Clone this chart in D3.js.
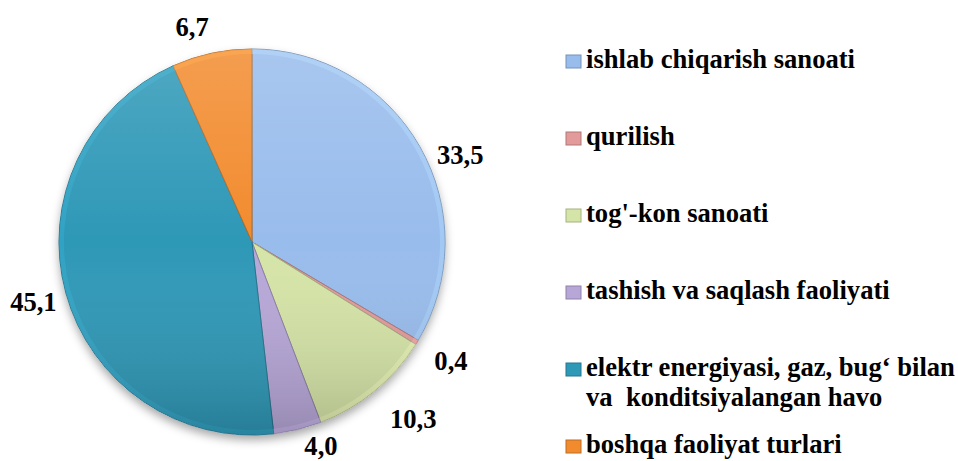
<!DOCTYPE html>
<html>
<head>
<meta charset="utf-8">
<script src="https://cdn.jsdelivr.net/npm/d3@7"></script>
<style>
  body { margin: 0; background: #fff; }
</style>
</head>
<body>
<svg id="chart" width="958" height="461"></svg>
<script>
// sectors, shares in percent
const categories = [
    "ishlab chiqarish sanoati",
    "qurilish",
    "tog'-kon sanoati",
    "tashish va saqlash faoliyati",
    "elektr energiyasi, gaz, bug\u2018 bilan\nva\u00a0 konditsiyalangan havo",
    "boshqa faoliyat turlari"
];
const shares = [33.5, 0.4, 10.3, 4.0, 45.1, 6.7];
const colors = ["#98bcec", "#e39a9a", "#d5e4a7", "#b7a7d8", "#2e98b7", "#f28b2e"];
// small hand nudges of the value labels, as the original chart placed them
const labelShift = [[7, 28], [6, 2], [16, 1], [17, -9], [5, -1], [-14, 0]];

const w = 958, h = 461;
const cx = 252, cy = 242, r = 193;

const family = '"Liberation Serif", "Times New Roman", serif';
const fontStyle = `font-family: ${family}; font-weight: bold; font-size: 26.6px; fill: #000;`;

const svg = d3.select('#chart');
const defs = svg.append('defs');

const shadow = defs.append('filter').attr('id', 'shadow')
    .attr('x', '-20%').attr('y', '-20%').attr('width', '140%').attr('height', '140%');
shadow.append('feDropShadow')
    .attr('dx', 0).attr('dy', 5).attr('stdDeviation', 5)
    .attr('flood-color', '#000').attr('flood-opacity', 0.35);

const shade = defs.append('linearGradient').attr('id', 'shade')
    .attr('x1', 0).attr('y1', 0).attr('x2', 0).attr('y2', 1);
shade.append('stop').attr('offset', '0%').attr('stop-color', '#fff').attr('stop-opacity', 0.16);
shade.append('stop').attr('offset', '50%').attr('stop-color', '#fff').attr('stop-opacity', 0);
shade.append('stop').attr('offset', '100%').attr('stop-color', '#000').attr('stop-opacity', 0.18);

const decimal = d3.formatLocale({decimal: ',', thousands: ' ', grouping: [3], currency: ['', '']}).format('.1f');

const pie = d3.pie().sort(null).value(d => d);
const arcs = pie(shares);
const arc = d3.arc().innerRadius(0).outerRadius(r);
const rim = d3.arc().innerRadius(r - 5).outerRadius(r);

const g = svg.append('g').attr('transform', `translate(${cx},${cy})`);

g.append('circle').attr('r', r).attr('fill', '#fff').attr('filter', 'url(#shadow)');

g.selectAll('path.slice')
    .data(arcs)
    .join('path')
    .attr('class', 'slice')
    .attr('d', arc)
    .attr('fill', (d, i) => colors[i])
    .attr('stroke', (d, i) => d3.color(colors[i]).darker(0.8))
    .attr('stroke-width', 1);

// light bevel near the rim
g.selectAll('path.rim')
    .data(arcs)
    .join('path')
    .attr('class', 'rim')
    .attr('d', rim)
    .attr('fill', (d, i) => d3.color(colors[i]).brighter(0.4))
    .attr('opacity', 0.45);

g.append('circle').attr('r', r).attr('fill', 'url(#shade)');

// value labels, pushed outside the pie along the mid angle
const gap = 14, halfHeight = 9;
g.selectAll('text.value')
    .data(arcs)
    .join('text')
    .attr('class', 'value')
    .attr('style', fontStyle)
    .attr('text-anchor', 'middle')
    .text(d => decimal(d.data))
    .each(function (d, i) {
        const a = (d.startAngle + d.endAngle) / 2;
        const s = Math.sin(a), c = Math.cos(a);
        const hw = this.getComputedTextLength() / 2;
        const R = r + gap + Math.abs(s) * hw + Math.abs(c) * halfHeight;
        d3.select(this)
            .attr('x', R * s + labelShift[i][0])
            .attr('y', -R * c + 8.6 + labelShift[i][1]);
    });

// legend
const legendX = 566, legendY = 68, rowStep = 77, lineStep = 30;
const legend = svg.append('g');
const rows = legend.selectAll('g')
    .data(categories)
    .join('g')
    .attr('transform', (d, i) => `translate(${legendX},${legendY + i * rowStep})`);

rows.append('rect')
    .attr('x', 0).attr('y', -13)
    .attr('width', 15).attr('height', 13)
    .attr('fill', (d, i) => colors[i])
    .attr('stroke', (d, i) => d3.color(colors[i]).darker(0.7))
    .attr('stroke-width', 1);

rows.selectAll('text')
    .data(d => d.split('\n'))
    .join('text')
    .attr('style', fontStyle)
    .attr('x', 20)
    .attr('y', (d, j) => j * lineStep)
    .text(d => d);
</script>
</body>
</html>
